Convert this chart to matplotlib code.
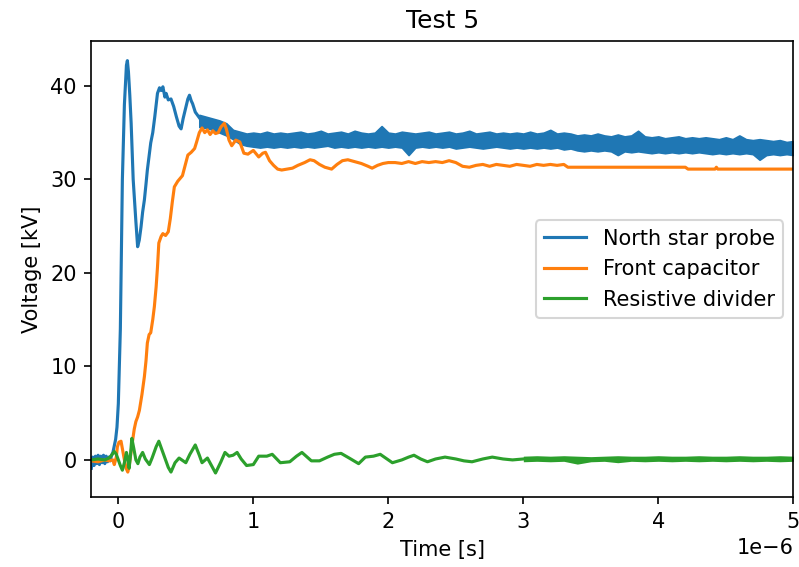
# Test 5 voltage traces: North star probe vs front capacitor vs resistive divider
import numpy as np
import matplotlib
matplotlib.use("Agg")
import matplotlib.pyplot as plt

# times in microseconds, voltages in kV
north_t_head = [-0.2, -0.19, -0.18, -0.17, -0.16, -0.15, -0.14, -0.13, -0.12, -0.11,
                -0.10, -0.09, -0.08, -0.07, -0.06, -0.05, -0.04, -0.03, -0.02, -0.01,
                0.0, 0.015, 0.03, 0.045, 0.06, 0.067, 0.075, 0.085, 0.095, 0.11,
                0.13, 0.143, 0.155, 0.168, 0.18, 0.193, 0.205, 0.215, 0.24, 0.255,
                0.27, 0.29, 0.305, 0.317, 0.33, 0.345, 0.354, 0.37, 0.39, 0.41,
                0.43, 0.45, 0.465, 0.48, 0.50, 0.515, 0.527, 0.54, 0.55, 0.57,
                0.59, 0.61, 0.64, 0.66, 0.69, 0.71, 0.73, 0.75, 0.77, 0.79,
                0.81, 0.83, 0.85, 0.875]
north_v_head = [-0.9, 0.3, -0.6, 0.4, -0.4, 0.5, -0.5, 0.4, -0.3, 0.5,
                -0.4, 0.4, -0.2, 0.3, -0.1, 0.5, 0.8, 1.5, 2.2, 3.5,
                6.0, 14.0, 30.0, 38.0, 42.2, 42.7, 41.5, 39.0, 36.0, 30.0,
                25.5, 22.8, 23.5, 24.9, 26.5, 27.8, 29.5, 31.0, 33.9, 35.0,
                36.7, 39.2, 39.8, 39.5, 39.9, 38.8, 39.2, 38.5, 38.6, 37.8,
                36.7, 35.7, 35.4, 36.5, 37.7, 38.6, 39.0, 38.4, 38.1, 37.2,
                36.8, 36.4, 36.1, 36.5, 35.9, 36.2, 35.7, 36.0, 35.3, 35.6,
                34.9, 35.2, 34.6, 34.9]
# noisy part: top and bottom edge of the trace, every 50 ns from 0.6 us to 5.0 us
north_band_start, north_band_end = 0.6, 5.0
north_band_top = [
    36.9, 36.7, 36.5, 36.3, 36.0,
    35.3, 35.1, 34.9, 35.0, 34.9, 35.1, 34.9, 35.0, 34.9, 35.0,
    35.1, 34.9, 35.0, 35.2, 34.9, 35.0, 35.1, 34.9, 35.2, 35.0,
    34.9, 35.0, 35.7, 35.0, 34.9, 35.1, 35.0, 34.9, 35.0, 35.1,
    34.9, 35.0, 35.1, 34.9, 35.0, 35.2, 34.9, 35.0, 35.1, 34.9,
    35.0, 34.9, 35.0, 34.9, 35.1, 34.9, 35.0, 35.3, 34.9, 35.0,
    34.9, 34.7, 34.8, 34.7, 34.9, 34.7, 34.6, 34.8, 34.6, 34.7,
    35.2, 34.6, 34.5, 34.6, 34.4, 34.5, 34.6, 34.4, 34.5, 34.4,
    34.5, 34.4, 34.3, 34.5, 34.3, 34.7, 34.3, 34.2, 34.3, 34.2,
    34.1, 34.2, 34.0, 34.1]
north_band_bottom = [
    35.6, 35.5, 35.3, 35.0, 34.7,
    34.3, 33.8, 33.6, 33.5, 33.4, 33.5, 33.4, 33.5, 33.4, 33.5,
    33.4, 33.5, 33.4, 33.5, 33.6, 33.4, 33.5, 33.4, 33.5, 33.4,
    33.5, 33.4, 33.5, 33.4, 33.5, 33.4, 32.6, 33.4, 33.5, 33.4,
    33.5, 33.4, 33.5, 33.3, 33.4, 33.5, 33.4, 33.3, 33.4, 33.5,
    33.4, 33.3, 33.4, 33.3, 33.4, 33.3, 33.4, 33.3, 33.4, 33.2,
    33.3, 33.1, 33.0, 33.1, 33.0, 33.1, 33.0, 32.6, 33.0, 32.9,
    33.0, 32.9, 32.8, 32.9, 32.8, 32.9, 32.8, 32.9, 32.8, 32.9,
    32.8, 32.7, 32.8, 32.7, 32.8, 32.7, 32.8, 32.7, 32.1, 32.6,
    32.7, 32.6, 32.7, 32.6]

front_t = [-0.2, -0.15, -0.1, -0.07, -0.04, -0.03, -0.015, -0.007, 0.005, 0.02,
           0.03, 0.045, 0.058, 0.07, 0.08, 0.09, 0.106, 0.118, 0.13, 0.143,
           0.156, 0.175, 0.193, 0.205, 0.215, 0.228, 0.24, 0.255, 0.267, 0.28,
           0.29, 0.3, 0.317, 0.33, 0.35, 0.37, 0.385, 0.4, 0.415, 0.44,
           0.475, 0.495, 0.515, 0.54, 0.565, 0.58, 0.60, 0.62, 0.64, 0.66,
           0.68, 0.70, 0.72, 0.74, 0.76, 0.785, 0.80, 0.82, 0.84, 0.87,
           0.90, 0.93, 0.96, 1.0, 1.04, 1.07, 1.09, 1.12, 1.15, 1.18,
           1.21, 1.25, 1.29, 1.33, 1.38, 1.42, 1.45, 1.49, 1.53, 1.58,
           1.62, 1.66, 1.70, 1.75, 1.80, 1.85, 1.88, 1.92, 1.96, 2.0,
           2.05, 2.1, 2.15, 2.2, 2.25, 2.3, 2.35, 2.4, 2.45, 2.5,
           2.55, 2.6, 2.65, 2.7, 2.75, 2.8, 2.85, 2.9, 2.95, 3.0,
           3.05, 3.1, 3.15, 3.2, 3.25, 3.3, 3.33, 3.6, 3.9, 4.2,
           4.22, 4.42, 4.43, 4.44, 5.0]
front_v = [-0.1, -0.2, 0.0, -0.1, 0.0, -0.5, 0.3, 1.4, 1.9, 2.0,
           1.2, 0.0, -0.9, -1.3, -0.7, 0.4, 2.1, 3.3, 4.1, 4.6,
           5.3, 7.0, 8.9, 10.6, 12.5, 13.4, 13.6, 15.0, 16.4, 18.5,
           20.6, 23.2, 23.9, 24.2, 24.0, 24.4, 25.8, 27.6, 29.2, 29.8,
           30.4, 31.5, 32.6, 32.9, 33.3, 34.0, 35.0, 35.5, 35.0, 35.3,
           34.8, 35.2, 34.9, 35.0, 35.6, 36.0, 35.4, 34.2, 33.6, 34.2,
           34.0, 32.8, 32.7, 33.1, 32.4, 32.8, 32.9, 32.0, 31.5, 31.1,
           31.0, 31.1, 31.2, 31.5, 31.8, 32.1, 32.0, 31.6, 31.3, 31.1,
           31.6, 32.0, 32.1, 31.9, 31.7, 31.4, 31.2, 31.5, 31.7, 31.8,
           31.8, 31.7, 31.9, 31.7, 31.9, 31.8, 31.9, 31.8, 32.0, 31.8,
           31.4, 31.3, 31.5, 31.6, 31.4, 31.6, 31.5, 31.4, 31.6, 31.5,
           31.4, 31.6, 31.5, 31.6, 31.5, 31.6, 31.3, 31.3, 31.3, 31.3,
           31.1, 31.1, 31.3, 31.1, 31.1]

divider_t = [-0.2, -0.15, -0.1, -0.07, -0.05, -0.03, -0.015, 0.0, 0.015, 0.03,
             0.045, 0.06, 0.07, 0.08, 0.09, 0.10, 0.115, 0.13, 0.145, 0.16,
             0.18, 0.2, 0.23, 0.25, 0.28, 0.30, 0.32, 0.35, 0.37, 0.39,
             0.42, 0.45, 0.48, 0.50, 0.53, 0.57, 0.60, 0.62, 0.66, 0.69,
             0.72, 0.76, 0.79, 0.82, 0.85, 0.88, 0.91, 0.95, 1.0, 1.04,
             1.1, 1.14, 1.2, 1.27, 1.32, 1.36, 1.43, 1.49, 1.55, 1.6,
             1.65, 1.71, 1.78, 1.83, 1.89, 1.94, 1.98, 2.03, 2.1, 2.15,
             2.19, 2.24, 2.29, 2.35, 2.42, 2.5, 2.56, 2.62, 2.7, 2.77,
             2.85, 2.92, 3.0]
divider_v = [0.0, 0.1, 0.0, 0.2, 0.5, 0.9, 0.6, 0.0, -0.6, -1.1,
             -0.3, 0.8, 0.2, -0.9, 0.5, 2.3, 1.2, 0.0, -0.4, 0.3,
             0.8, 0.1, -0.5, 0.2, 1.4, 2.0, 1.2, 0.0, -0.8, -1.3,
             -0.3, 0.2, -0.1, -0.3, 0.6, 1.6, 0.5, -0.3, 0.2, -0.6,
             -1.4, -0.2, 0.8, 0.4, 0.5, 0.8, 0.1, -0.6, -0.5, 0.4,
             0.4, 0.6, -0.3, -0.2, 0.4, 0.8, -0.1, -0.1, 0.3, 0.6,
             0.7, 0.2, -0.4, 0.3, 0.4, 0.6, 0.2, -0.3, 0.0, 0.3,
             0.5, 0.1, -0.2, 0.1, 0.3, 0.1, -0.1, -0.2, 0.1, 0.3,
             0.1, 0.0, 0.1]
# settled part: top and bottom edge of the trace, every 100 ns from 3.0 us to 5.0 us
divider_band_start, divider_band_end = 3.0, 5.0
divider_band_top = [0.4, 0.45, 0.4, 0.45, 0.4, 0.35, 0.4, 0.45, 0.4, 0.4,
                    0.45, 0.4, 0.4, 0.45, 0.4, 0.4, 0.45, 0.4, 0.4, 0.45, 0.4]
divider_band_bottom = [-0.2, -0.15, -0.2, -0.15, -0.45, -0.2, -0.15, -0.3, -0.15, -0.2,
                       -0.15, -0.2, -0.15, -0.2, -0.15, -0.2, -0.15, -0.2, -0.15, -0.2, -0.15]

north_band_t = np.linspace(north_band_start, north_band_end, len(north_band_top))
divider_band_t = np.linspace(divider_band_start, divider_band_end, len(divider_band_top))

fig = plt.figure(figsize=(799 / 150, 567 / 150), dpi=150)
ax = fig.add_subplot(111)
ax.plot(np.array(north_t_head) * 1e-6, north_v_head, color="C0", label="North star probe")
ax.fill_between(north_band_t * 1e-6, north_band_bottom, north_band_top,
                facecolor="C0", edgecolor="C0", lw=0.8)
ax.plot(np.array(front_t) * 1e-6, front_v, color="C1", label="Front capacitor")
ax.plot(np.array(divider_t) * 1e-6, divider_v, color="C2", label="Resistive divider")
ax.fill_between(divider_band_t * 1e-6, divider_band_bottom, divider_band_top, color="C2", lw=0)

ax.set_xlim(-0.2e-6, 5e-6)
ax.set_ylim(-4.0, 44.8)
ax.set_title("Test 5")
ax.set_xlabel("Time [s]")
ax.set_ylabel("Voltage [kV]")
ax.legend(loc="center right")

fig.subplots_adjust(left=0.1143, right=0.9929, bottom=0.1229, top=0.9277)
fig.savefig("out.png", dpi=150)
